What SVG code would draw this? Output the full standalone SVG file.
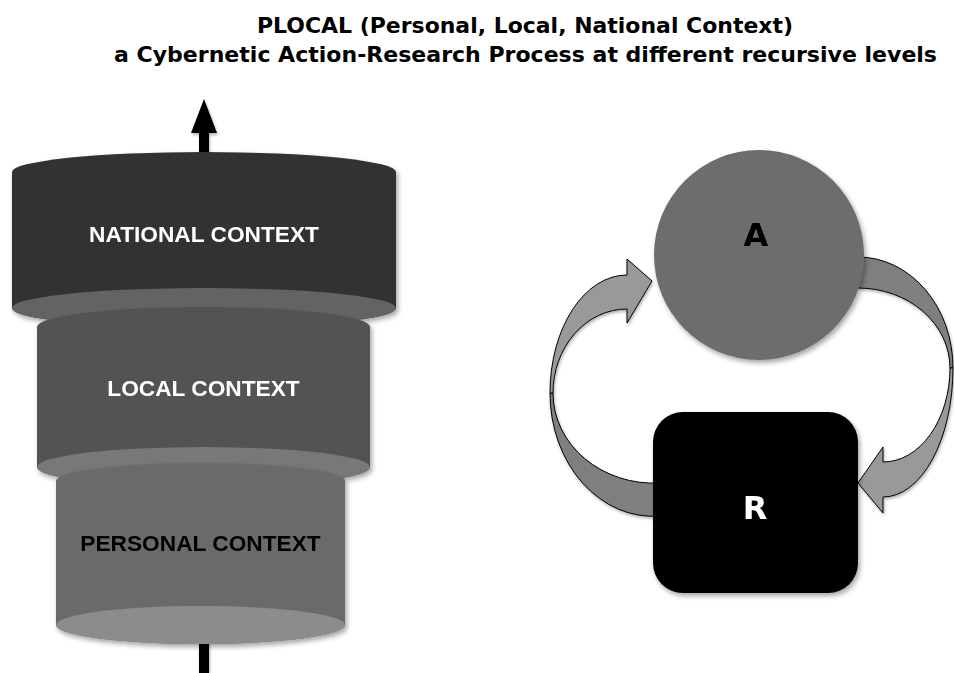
<svg xmlns="http://www.w3.org/2000/svg" width="954" height="673" viewBox="0 0 954 673">
<style>
.title{font-family:"DejaVu Sans","Liberation Sans",sans-serif;font-weight:bold;font-size:22px;fill:#000}
.ctx{font-family:"Liberation Sans",Arial,sans-serif;font-weight:bold;font-size:22.7px;text-anchor:middle}
.big{font-family:"DejaVu Sans","Liberation Sans",sans-serif;font-weight:bold;font-size:32px;text-anchor:middle}
.arw{stroke:#000;stroke-width:1;stroke-linejoin:miter}
</style>
<defs>
<filter id="sh" x="-10%" y="-10%" width="130%" height="130%">
<feDropShadow dx="2" dy="3" stdDeviation="2.5" flood-color="#000" flood-opacity="0.35"/>
</filter>
<filter id="sh2" x="-20%" y="-20%" width="150%" height="150%">
<feDropShadow dx="1" dy="2" stdDeviation="1.5" flood-color="#000" flood-opacity="0.3"/>
</filter>
</defs>
<rect width="954" height="673" fill="#fff"/>

<g id="title">
<text class="title" x="257" y="33" textLength="536" lengthAdjust="spacingAndGlyphs">PLOCAL (Personal, Local, National Context)</text>
<text class="title" x="114" y="62" textLength="823" lengthAdjust="spacingAndGlyphs">a Cybernetic Action-Research Process at different recursive levels</text>
</g>

<g id="connectors">
<path id="arrow-up" d="M199,153 L199,133 L191,133 L204,99 L217,133 L209,133 L209,153 Z" fill="#000" filter="url(#sh2)"/>
<rect id="arrow-in" x="199" y="640" width="10" height="33" fill="#000" filter="url(#sh2)"/>
</g>

<g id="national" filter="url(#sh)">
<path d="M12,172 A192,20 0 0 1 396,172 L396,308 A192,20 0 0 1 12,308 Z" fill="#333333"/>
<ellipse cx="204" cy="308" rx="192" ry="20" fill="#646464"/>
<text class="ctx" x="204" y="242" fill="#fff">NATIONAL CONTEXT</text>
</g>

<g id="local" filter="url(#sh)">
<path d="M37,327 A166.5,20 0 0 1 370,327 L370,467 A166.5,20 0 0 1 37,467 Z" fill="#525252"/>
<ellipse cx="203.5" cy="467" rx="166.5" ry="20" fill="#787878"/>
<text class="ctx" x="203.5" y="396" fill="#fff">LOCAL CONTEXT</text>
</g>

<g id="personal" filter="url(#sh)">
<path d="M56,481 A144.5,18 0 0 1 345,481 L345,625 A144.5,19 0 0 1 56,625 Z" fill="#6b6b6b"/>
<ellipse cx="200.5" cy="625" rx="144.5" ry="19" fill="#8c8c8c"/>
<text class="ctx" x="200.5" y="551" fill="#000">PERSONAL CONTEXT</text>
</g>

<g id="loop-arrows" filter="url(#sh2)">
<path class="arw" d="M550,393 A103,123 0 0 0 660,516 L660,483 A101,90 0 0 1 553,393 Z" fill="#7f7f7f"/>
<path class="arw" d="M550,393 A77,118 0 0 1 627,275 L627,259 L652,281 L627,323 L627,309 A74,84 0 0 0 553,393 Z" fill="#999999"/>
<path class="arw" d="M858,257 A95,111 0 0 1 953,368 L950,368 A92,80 0 0 0 858,288 Z" fill="#7f7f7f"/>
<path class="arw" d="M953,368 A70,129 0 0 1 883,497 L883,513 L858,483 L883,447 L883,462 A67,94 0 0 0 950,368 Z" fill="#999999"/>
</g>

<g id="node-A" filter="url(#sh)">
<circle cx="759" cy="255" r="105" fill="#6d6d6d"/>
<text class="big" x="756" y="246" fill="#000">A</text>
</g>

<g id="node-R" filter="url(#sh)">
<rect x="653" y="412" width="205" height="181" rx="30" ry="30" fill="#000"/>
<text class="big" x="755" y="519" fill="#fff">R</text>
</g>
</svg>
